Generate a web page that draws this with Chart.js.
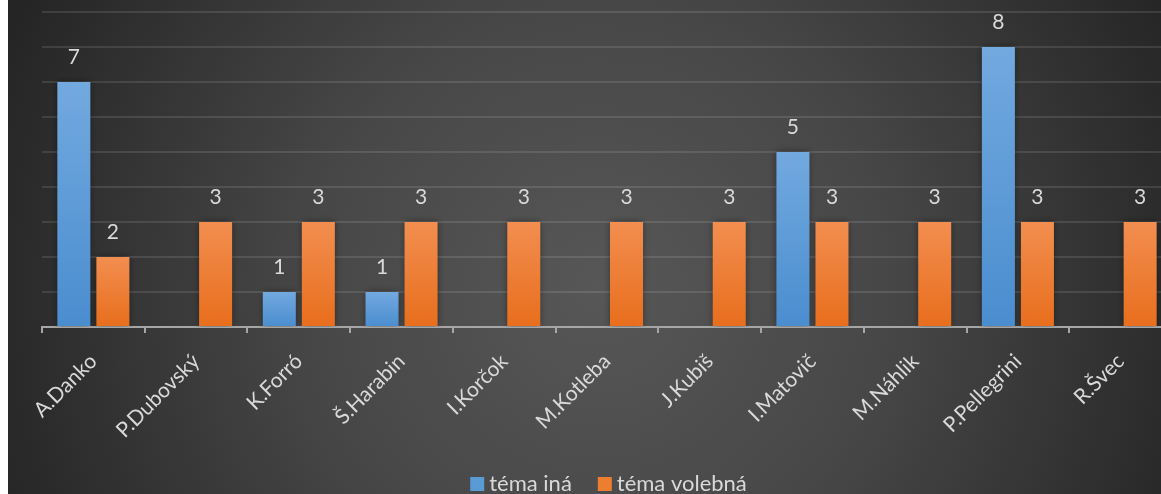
<!DOCTYPE html>
<html><head><meta charset="utf-8">
<script src="https://cdn.jsdelivr.net/npm/chart.js@4"></script>
<style>
html,body{margin:0;padding:0;background:#fff;overflow:hidden;width:1161px;height:494px}
#wrap{position:absolute;left:8px;top:0;width:1153px;height:494px;overflow:hidden}
#c{position:absolute;left:0;top:0}
</style></head>
<body><div id="wrap"><canvas id="c" width="1175" height="494"></canvas></div>
<script>
const categories = ["A.Danko","P.Dubovský","K.Forró","Š.Harabin","I.Korčok","M.Kotleba","J.Kubiš","I.Matovič","M.Náhlik","P.Pellegrini","R.Švec"];
const temaIna = [7,null,1,1,null,null,null,5,null,8,null];
const temaVolebna = [2,3,3,3,3,3,3,3,3,3,3];
const seriesNames = ["téma iná","téma volebná"];
const seriesColors = ["#5b9bd5","#ed7d31"];
const yMax = 9;

const FONT = "Lato, 'Open Sans', sans-serif";
const TXT = "#d9d9d9";
const FS = 21;

function barGrad(top, bottom){
  return function(context){
    const chart = context.chart;
    const ys = chart.scales && chart.scales.y;
    if(!ys || context.raw == null) return bottom;
    const y0 = ys.getPixelForValue(0);
    const y1 = ys.getPixelForValue(context.raw);
    if(!isFinite(y0) || !isFinite(y1) || y0===y1) return bottom;
    const g = chart.ctx.createLinearGradient(0, y1, 0, y0);
    g.addColorStop(0, top); g.addColorStop(1, bottom);
    return g;
  };
}

const bgPlugin = {
  id:'bg',
  beforeDraw(chart){
    const c = chart.ctx, w = chart.width, h = chart.height;
    c.save();
    const g = c.createRadialGradient(590, 290, 0, 590, 290, 640);
    g.addColorStop(0, '#575757');
    g.addColorStop(0.45, '#474747');
    g.addColorStop(1, '#252525');
    c.fillStyle = g;
    c.fillRect(0,0,w,h);
    c.restore();
  }
};
const shadowPlugin = {
  id:'shadow',
  beforeDatasetsDraw(chart){
    const c = chart.ctx; c.save();
    c.shadowColor='rgba(0,0,0,0.45)'; c.shadowBlur=7; c.shadowOffsetX=0; c.shadowOffsetY=0;
  },
  afterDatasetsDraw(chart){ chart.ctx.restore(); }
};
const labelPlugin = {
  id:'vlabels',
  afterDatasetsDraw(chart){
    const c = chart.ctx; c.save();
    c.font = FS + "px " + FONT; c.fillStyle = TXT; c.textAlign='center'; c.textBaseline='alphabetic';
    chart.data.datasets.forEach((ds,i)=>{
      const meta = chart.getDatasetMeta(i);
      meta.data.forEach((bar,j)=>{
        const v = ds.data[j]; if(v==null) return;
        c.fillText(String(v), bar.x, bar.y - 18);
      });
    });
    c.restore();
  }
};
const legendPlugin = {
  id:'customLegend',
  afterDraw(chart){
    const c = chart.ctx; c.save();
    c.font = "22px " + FONT; c.textBaseline='middle'; c.textAlign='left';
    const box = 14, gapText = 5, gapItem = 26;
    const widths = seriesNames.map(n => box + gapText + c.measureText(n).width);
    const total = widths.reduce((a,b)=>a+b,0) + gapItem*(seriesNames.length-1);
    let x = 600.5 - total/2;
    const yc = 484;
    seriesNames.forEach((n,i)=>{
      c.fillStyle = seriesColors[i];
      c.fillRect(x, yc - box/2, box, box);
      c.fillStyle = TXT;
      c.fillText(n, x + box + gapText, yc);
      x += widths[i] + gapItem;
    });
    c.restore();
  }
};

new Chart(document.getElementById('c'), {
  type:'bar',
  data:{
    labels: categories,
    datasets:[
      {label: seriesNames[0], data: temaIna, backgroundColor: barGrad('#72a9df','#4a8dcf'), borderWidth:0},
      {label: seriesNames[1], data: temaVolebna, backgroundColor: barGrad('#f28e50','#e86e1c'), borderWidth:0}
    ]
  },
  options:{
    responsive:false, animation:false, devicePixelRatio:1,
    categoryPercentage:0.76, barPercentage:0.846,
    layout:{padding:{left:34,right:11,top:12,bottom:0}},
    plugins:{ legend:{display:false}, tooltip:{enabled:false} },
    scales:{
      x:{
        grid:{display:true, drawOnChartArea:false, drawTicks:true, tickLength:6, color:'#a6a6a6', lineWidth:2, offset:true},
        border:{display:true, color:'#a6a6a6', width:2},
        ticks:{color:TXT, font:{family:FONT,size:FS}, minRotation:45, maxRotation:45, padding:16, autoSkip:false},
        afterFit(s){ s.height = 167; }
      },
      y:{
        min:0, max:yMax,
        ticks:{display:false, stepSize:1},
        grid:{color:'rgba(255,255,255,0.11)', lineWidth:2, drawTicks:false},
        border:{display:false},
        afterFit(s){ s.width = 0; }
      }
    }
  },
  plugins:[bgPlugin, shadowPlugin, labelPlugin, legendPlugin]
});
</script>
</body></html>
